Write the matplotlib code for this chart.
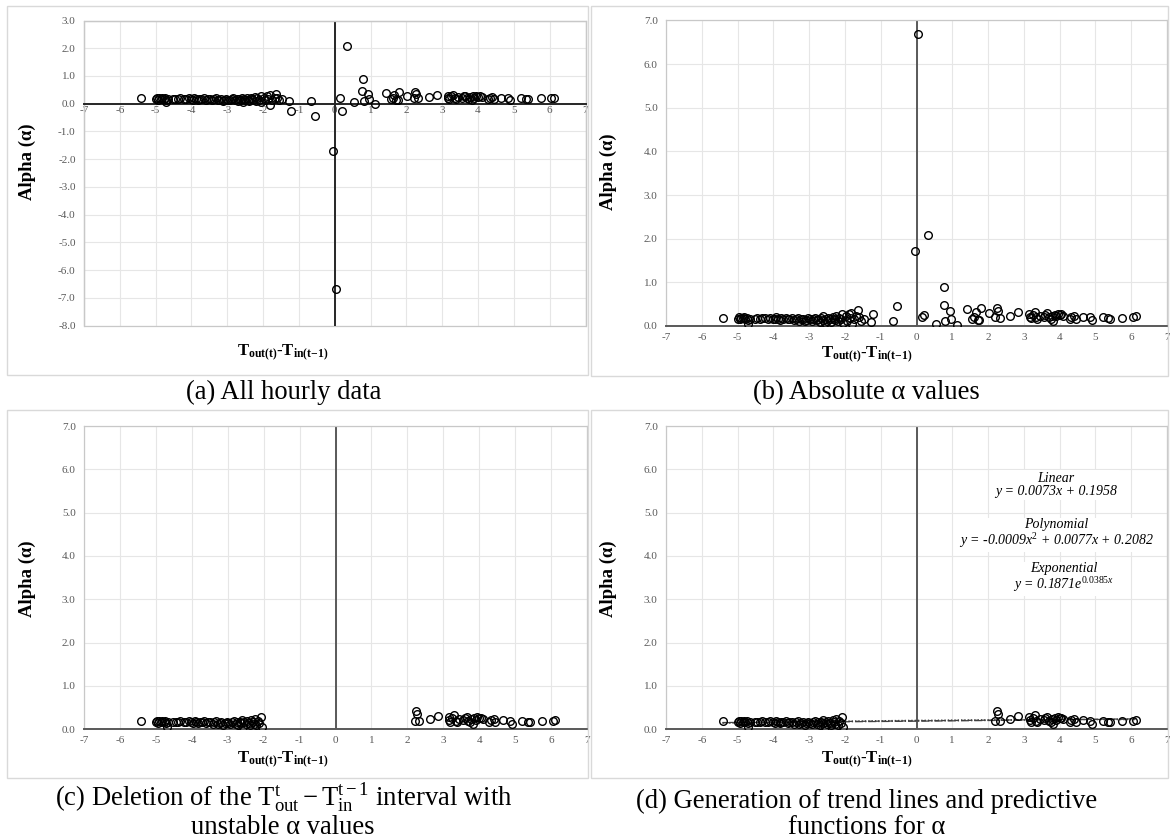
import numpy as np
import matplotlib
matplotlib.use("Agg")
import matplotlib.pyplot as plt
from matplotlib.patches import Rectangle

plt.rcParams["font.family"] = ["Liberation Serif", "DejaVu Serif"]
plt.rcParams["mathtext.fontset"] = "custom"
plt.rcParams["mathtext.rm"] = "Liberation Serif"
plt.rcParams["mathtext.it"] = "Liberation Serif:italic"
plt.rcParams["mathtext.bf"] = "Liberation Serif:bold"

# hourly data: T_out(t) - T_in(t-1) and alpha (signed)
dT = [-5.42, -5.00, -4.97, -4.93, -4.90, -4.86, -4.82, -4.78, -4.75, -4.72,
      -4.70, -4.66, -4.52, -4.45, -4.38, -4.33, -4.22, -4.15, -4.08, -4.02,
      -3.96, -3.92, -3.88, -3.82, -3.78, -3.72, -3.66, -3.60, -3.55, -3.48,
      -3.42, -3.38, -3.32, -3.27, -3.22, -3.18, -3.12, -3.08, -3.03, -2.98,
      -2.93, -2.88, -2.83, -2.78, -2.74, -2.70, -2.66, -2.62, -2.60, -2.57,
      -2.54, -2.50, -2.46, -2.42, -2.38, -2.34, -2.30, -2.27, -2.24, -2.20,
      -2.16, -2.12, -2.07, -2.05,
      -1.98, -1.95, -1.90, -1.86, -1.82, -1.80, -1.75, -1.68, -1.63, -1.60,
      -1.55, -1.48, -1.28, -1.22, -0.66, -0.55, -0.05, 0.03, 0.16, 0.20,
      0.33, 0.54, 0.76, 0.78, 0.81, 0.94, 0.96, 1.12, 1.42, 1.56,
      1.62, 1.66, 1.72, 1.76, 1.80, 2.02,
      2.20, 2.25, 2.28, 2.32, 2.62, 2.85, 3.15, 3.17, 3.20, 3.25,
      3.30, 3.35, 3.38, 3.45, 3.55, 3.60, 3.65, 3.70, 3.75, 3.78,
      3.82, 3.86, 3.90, 3.95, 4.00, 4.05, 4.10, 4.28, 4.33, 4.40,
      4.45, 4.65, 4.85, 4.90, 5.20, 5.35, 5.40, 5.75, 6.05, 6.12]
alpha = [0.19, 0.17, 0.20, 0.15, 0.19, 0.18, 0.20, 0.16, 0.19, 0.14,
         0.05, 0.17, 0.17, 0.18, 0.16, 0.19, 0.18, 0.16, 0.19, 0.17,
         0.15, 0.20, 0.17, 0.14, 0.18, 0.16, 0.19, 0.15, 0.17, 0.18,
         0.13, 0.16, 0.19, 0.12, 0.15, 0.17, 0.11, 0.14, 0.18, 0.15,
         0.12, 0.17, 0.19, 0.13, 0.16, 0.10, 0.18, 0.14, 0.22, 0.06,
         0.17, 0.12, 0.19, 0.15, 0.09, 0.21, 0.17, 0.13, 0.24, 0.11,
         0.19, 0.15, 0.28, 0.06,
         0.22, 0.12, 0.27, 0.18, 0.30, -0.05, 0.15, 0.22, 0.36, 0.20,
         0.12, 0.16, 0.10, -0.27, 0.11, -0.45, -1.72, -6.68, 0.21, -0.26,
         2.09, 0.05, 0.47, 0.90, 0.11, 0.35, 0.17, -0.02, 0.39, 0.17,
         0.20, 0.33, 0.14, 0.13, 0.42, 0.29,
         0.20, 0.42, 0.35, 0.19, 0.24, 0.31, 0.28, 0.21, 0.18, 0.26,
         0.32, 0.20, 0.17, 0.23, 0.21, 0.26, 0.29, 0.20, 0.16, 0.23,
         0.12, 0.26, 0.22, 0.28, 0.25, 0.27, 0.24, 0.16, 0.21, 0.23,
         0.17, 0.21, 0.20, 0.13, 0.20, 0.18, 0.17, 0.19, 0.20, 0.22]

# interval with unstable alpha values, removed in (c) and (d)
unstable_lo, unstable_hi = -2.0, 2.2

# fitted functions shown in (d)
lin_coef = (0.0073, 0.1958)
poly_coef = (-0.0009, 0.0077, 0.2082)
exp_coef = (0.1871, 0.0385)

x_ticks = list(range(-7, 8))
y_ticks_a = [3, 2, 1, 0, -1, -2, -3, -4, -5, -6, -7, -8]
y_ticks_b = [0, 1, 2, 3, 4, 5, 6, 7]

dT = np.array(dT)
alpha = np.array(alpha)
abs_alpha = np.abs(alpha)
keep = (dT <= unstable_lo) | (dT >= unstable_hi)

W, H = 1170, 839
fig = plt.figure(figsize=(W / 100, H / 100), dpi=100)


def rect(l, t, r, b):
    return [l / W, 1 - b / H, (r - l) / W, (b - t) / H]


def fx(x):
    return x / W


def fy(y):
    return 1 - y / H


# light frames around each panel
for l, t, r, b in [(7, 6, 588, 375), (591, 6, 1168, 376),
                   (7, 410, 588, 778), (591, 410, 1168, 778)]:
    fig.add_artist(Rectangle((fx(l), fy(b)), (r - l) / W, (b - t) / H,
                             transform=fig.transFigure, fill=False,
                             ec="#d9d9d9", lw=1.0))

xlab = r"$\mathbf{T_{out(t)}}$" + "-" + r"$\mathbf{T_{in(t{-}1)}}$"


def style(ax, ylim, yticks, axis_col):
    ax.set_xlim(-7, 7)
    ax.set_ylim(*ylim)
    ax.set_xticks(x_ticks)
    ax.set_xticklabels([str(v) for v in x_ticks])
    ax.set_yticks(yticks)
    ax.set_yticklabels([f"{v:.1f}" for v in yticks])
    ax.grid(True, color="#e6e6e6", lw=0.8)
    ax.set_axisbelow(True)
    ax.tick_params(length=0, labelsize=8, labelcolor="#595959")
    ax.tick_params(axis="y", pad=6)
    ax.tick_params(axis="x", pad=5)
    for s in ax.spines.values():
        s.set_color("#c8c8c8")
        s.set_linewidth(0.9)
    ax.spines["bottom"].set_color(axis_col)
    ax.spines["bottom"].set_linewidth(1.4)
    ax.axvline(0, color=axis_col, lw=1.4, zorder=1.5)


def points(ax, x, y):
    ax.plot(x, y, "o", mfc="none", mec="black", ms=5.5, mew=1.0, zorder=3)


# (a) all hourly data
ax_a = fig.add_axes(rect(84, 20.5, 585.5, 325.5))
style(ax_a, (-8, 3), y_ticks_a, "#262626")
ax_a.spines["bottom"].set_position(("data", 0))
ax_a.tick_params(axis="x", pad=2)
ax_a.add_patch(Rectangle((0, 0), 1, 1, transform=ax_a.transAxes, fill=False,
                         ec="#c8c8c8", lw=0.9, clip_on=False))
points(ax_a, dT, alpha)

# (b) absolute values
ax_b = fig.add_axes(rect(666, 20.5, 1167, 326))
style(ax_b, (0, 7), y_ticks_b, "#595959")
points(ax_b, dT, abs_alpha)

# (c) unstable interval deleted
ax_c = fig.add_axes(rect(84, 426, 587, 729.3))
style(ax_c, (0, 7), y_ticks_b, "#595959")
points(ax_c, dT[keep], abs_alpha[keep])

# (d) trend lines
ax_d = fig.add_axes(rect(666, 426, 1167, 729.3))
style(ax_d, (0, 7), y_ticks_b, "#595959")
points(ax_d, dT[keep], abs_alpha[keep])
xs = np.linspace(dT[keep].min(), dT[keep].max(), 200)
ax_d.plot(xs, lin_coef[0] * xs + lin_coef[1], ls="--", color="#404040", lw=0.9, zorder=2)
ax_d.plot(xs, poly_coef[0] * xs ** 2 + poly_coef[1] * xs + poly_coef[2], ls=":",
          color="#404040", lw=0.9, zorder=2)
ax_d.plot(xs, exp_coef[0] * np.exp(exp_coef[1] * xs), ls="-.", color="#404040", lw=0.9, zorder=2)

box = dict(facecolor="white", edgecolor="none", pad=1.5)
eq_kw = dict(ha="center", va="center", fontsize=10, style="italic",
             multialignment="center", linespacing=1.05, bbox=box)
fig.text(fx(1056), fy(485), "Linear\ny = %.4fx + %.4f" % lin_coef, **eq_kw)
fig.text(fx(1056), fy(534),
         "Polynomial\n" + r"y = %.4fx$^{\mathit{2}}$ + %.4fx + %.4f" % poly_coef, **eq_kw)
fig.text(fx(1064), fy(578),
         "Exponential\n" + r"y = %.4fe$^{\mathit{%.4fx}}$" % exp_coef, **eq_kw)

# axis titles
ylab_kw = dict(ha="center", va="center", rotation=90, fontsize=13.5, fontweight="bold")
fig.text(fx(27), fy(162), "Alpha (α)", **ylab_kw)
fig.text(fx(608), fy(172), "Alpha (α)", **ylab_kw)
fig.text(fx(27), fy(579), "Alpha (α)", **ylab_kw)
fig.text(fx(608), fy(579), "Alpha (α)", **ylab_kw)

xlab_kw = dict(ha="center", va="center", fontsize=12, fontweight="bold")
fig.text(fx(283), fy(353), xlab, **xlab_kw)
fig.text(fx(867), fy(355), xlab, **xlab_kw)
fig.text(fx(283), fy(760), xlab, **xlab_kw)
fig.text(fx(867), fy(760), xlab, **xlab_kw)

# captions
cap_kw = dict(ha="center", va="center", fontsize=19.2)
fig.text(fx(284), fy(798),
         r"(c) Deletion of the $\mathrm{T_{out}^{t}} - \mathrm{T_{in}^{t-1}}$ interval with",
         **cap_kw)
fig.text(fx(283), fy(828), "unstable α values", **cap_kw)
fig.text(fx(284), fy(392), "(a) All hourly data", **cap_kw)
fig.text(fx(866), fy(393), "(b) Absolute α values", **cap_kw)
fig.text(fx(867), fy(801), "(d) Generation of trend lines and predictive", **cap_kw)
fig.text(fx(867), fy(827), "functions for α", **cap_kw)

fig.savefig("out.png", dpi=100, facecolor="white")
